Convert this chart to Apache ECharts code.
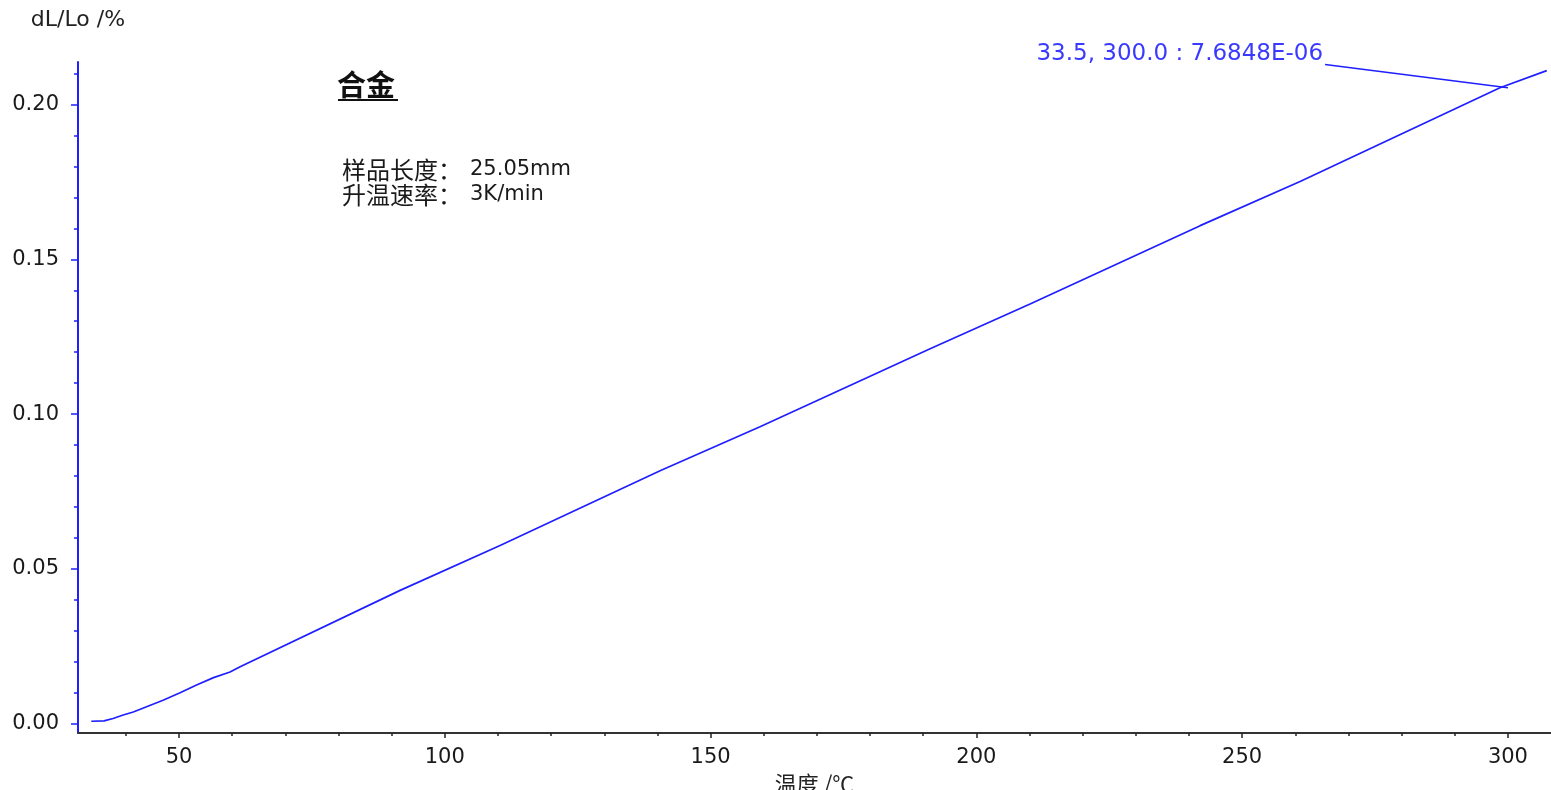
<!DOCTYPE html>
<html>
<head>
<meta charset="utf-8">
<script src="https://cdn.jsdelivr.net/npm/echarts@6/dist/echarts.min.js"></script>
<style>
  html, body { margin: 0; padding: 0; background: #fff; }
  #chart { width: 1551px; height: 790px; }
</style>
</head>
<body>
<div id="chart"></div>
<script>
// 温度 (°C) 与 dL/Lo (%) 读数
const temps = [33.5, 35.9, 37.6, 39.5, 41.4, 43.9, 47.0, 50.2, 53.3, 56.5, 59.6, 61.5,
  91.6, 110.4, 140.5, 159.3, 191.3, 210.1, 242.1, 260.9, 298.5, 307.3];
const dl = [0.0007, 0.0008, 0.0016, 0.0027, 0.0037, 0.0054, 0.0075, 0.0099, 0.0124, 0.0148, 0.0166, 0.0183,
  0.0430, 0.0575, 0.0817, 0.0959, 0.1211, 0.1356, 0.1609, 0.1752, 0.2055, 0.2110];

const xMajor = [50, 100, 150, 200, 250, 300];
const xMinor = [40, 60, 70, 80, 90, 110, 120, 130, 140, 160, 170, 180, 190,
  210, 220, 230, 240, 260, 270, 280, 290];
const yMajor = [0, 0.05, 0.10, 0.15, 0.20];
const yMinor = [0.01, 0.02, 0.03, 0.04, 0.06, 0.07, 0.08, 0.09, 0.11, 0.12, 0.13, 0.14,
  0.16, 0.17, 0.18, 0.19, 0.21];

// 光标标注：起点 (标签处) -> 曲线上的点
const cursorLine = [[265.6, 0.2130], [300, 0.2055]];
const cursorText = '33.5, 300.0 : 7.6848E-06';

const FONT = 'DejaVu Sans';
const BLUE = '#1f1fff';

const chart = echarts.init(document.getElementById('chart'));

const xRange = { min: 31, max: 308.1 };
const yRange = { min: -0.0031, max: 0.2138 };
const gridBox = { left: 78, right: 0, top: 62, bottom: 57, containLabel: false, outerBoundsMode: 'none' };

chart.setOption({
  backgroundColor: '#fff',
  animation: false,
  // 两个重叠的 grid：0 画主刻度、标签和曲线，1 只画次刻度
  grid: [gridBox, { ...gridBox }],
  xAxis: [
    {
      type: 'value', gridIndex: 0, position: 'bottom', ...xRange,
      name: '温度 /℃', nameLocation: 'middle', nameGap: 36,
      nameTextStyle: { fontFamily: 'Noto Sans CJK SC', fontSize: 22, color: '#222' },
      axisLine: { show: true, onZero: false, lineStyle: { color: '#333', width: 2 } },
      axisTick: { show: true, customValues: xMajor, length: 5, lineStyle: { color: '#222', width: 1.5 } },
      axisLabel: { customValues: xMajor, margin: 14, fontFamily: FONT, fontSize: 21, color: '#1a1a1a' },
      splitLine: { show: false }
    },
    {
      type: 'value', gridIndex: 1, position: 'bottom', ...xRange,
      axisLine: { show: false, onZero: false },
      axisTick: { show: true, customValues: xMinor, length: 3, lineStyle: { color: '#222', width: 1.5 } },
      axisLabel: { show: false },
      splitLine: { show: false }
    }
  ],
  yAxis: [
    {
      type: 'value', gridIndex: 0, position: 'left', ...yRange,
      name: 'dL/Lo /%', nameLocation: 'end', nameGap: 31,
      nameTextStyle: { fontFamily: FONT, fontSize: 22, color: '#222', align: 'center' },
      axisLine: { show: true, onZero: false, lineStyle: { color: BLUE, width: 2 } },
      axisTick: { show: true, customValues: yMajor, length: 7, lineStyle: { color: BLUE, width: 1.5 } },
      axisLabel: {
        customValues: yMajor, margin: 19, fontFamily: FONT, fontSize: 21, color: '#1a1a1a',
        formatter: v => v.toFixed(2)
      },
      splitLine: { show: false }
    },
    {
      type: 'value', gridIndex: 1, position: 'left', ...yRange,
      axisLine: { show: false, onZero: false },
      axisTick: { show: true, customValues: yMinor, length: 4, lineStyle: { color: BLUE, width: 1.5 } },
      axisLabel: { show: false },
      splitLine: { show: false }
    }
  ],
  graphic: [
    {
      type: 'text', left: 337, top: 70,
      style: { text: '合金', font: 'bold 29px "Noto Sans CJK SC"', fill: '#111' }
    },
    {
      type: 'line', shape: { x1: 338, y1: 100, x2: 398, y2: 100 },
      style: { stroke: '#111', lineWidth: 2 }
    },
    {
      type: 'text', left: 342, top: 158,
      style: {
        text: '{c|样品长度：}{l|25.05mm}\n{c|升温速率：}{l|3K/min}',
        rich: {
          c: { font: '24px "Noto Sans CJK SC"', fill: '#1a1a1a', lineHeight: 25, width: 128 },
          l: { font: '21px "DejaVu Sans"', fill: '#1a1a1a', lineHeight: 25 }
        }
      }
    }
  ],
  series: [
    {
      type: 'line', xAxisIndex: 0, yAxisIndex: 0,
      data: temps.map((t, i) => [t, dl[i]]),
      showSymbol: false, symbol: 'none',
      lineStyle: { color: BLUE, width: 1.7 },
      z: 3
    },
    {
      type: 'line', xAxisIndex: 0, yAxisIndex: 0,
      data: cursorLine,
      clip: false, symbol: 'none',
      lineStyle: { color: BLUE, width: 1.5 },
      markPoint: {
        symbol: 'circle', symbolSize: 0,
        data: [{
          coord: cursorLine[0],
          label: {
            show: true, position: 'left', distance: 2, offset: [0, -10],
            formatter: cursorText, fontFamily: FONT, fontSize: 23, color: '#3a3aff'
          }
        }]
      },
      z: 4
    },
    {
      // 占位系列，让 grid 1 的刻度轴生效
      type: 'line', xAxisIndex: 1, yAxisIndex: 1, data: [], symbol: 'none'
    }
  ]
});

window.addEventListener('resize', () => chart.resize());
</script>
</body>
</html>
